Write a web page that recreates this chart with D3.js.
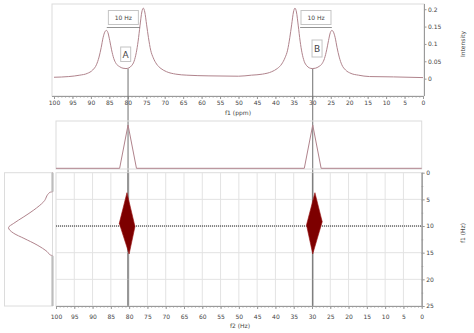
<!DOCTYPE html>
<html><head><meta charset="utf-8">
<script src="https://cdn.jsdelivr.net/npm/d3@7"></script>
<style>
body{margin:0;background:#fff}
svg{display:block}
text{font-family:"DejaVu Sans",sans-serif;fill:#444}
</style>
</head><body>
<svg id="c" width="474" height="333"></svg>
<script>
// 1D spectrum along f1 (ppm): two doublets, A and B
const specPpm = [100,96,93,91,89.5,88.5,87.8,87.2,86.7,86.2,85.8,85.4,84.9,84.4,83.8,83.2,82.3,81.3,80.5,79.7,79.0,78.3,77.7,77.2,76.7,76.2,75.8,75.4,74.9,74.4,73.8,73.1,72.2,71.0,69.5,67,64,58,50,
  46.5,43.5,41.0,39.5,38.3,37.4,36.7,36.1,35.6,35.1,34.7,34.3,33.8,33.3,32.8,32.2,31.5,30.8,30.0,29.2,28.2,27.3,26.7,26.1,25.6,25.1,24.7,24.3,23.8,23.3,22.7,22.0,21.0,19.5,17.5,14.5,8,0];
const specInt = [0.004,0.006,0.010,0.015,0.025,0.040,0.062,0.090,0.118,0.135,0.139,0.133,0.110,0.083,0.058,0.044,0.035,0.030,0.029,0.031,0.037,0.050,0.075,0.108,0.152,0.192,0.203,0.192,0.155,0.118,0.082,0.060,0.042,0.029,0.020,0.013,0.010,0.008,0.007,
  0.010,0.013,0.020,0.029,0.042,0.060,0.082,0.118,0.155,0.192,0.203,0.192,0.152,0.108,0.075,0.050,0.037,0.031,0.029,0.030,0.035,0.044,0.058,0.083,0.110,0.133,0.139,0.135,0.118,0.090,0.062,0.040,0.025,0.015,0.010,0.006,0.005,0.003];
const ppmTicks = [100,95,90,85,80,75,70,65,60,55,50,45,40,35,30,25,20,15,10,5,0];
const intTicks = [0,0.05,0.1,0.15,0.2];
const hzTicks = [0,5,10,15,20,25];

// Multiplet annotations
const pairLabels = ["A","B"];
const markPpm = [80.3,29.8];        // cursor position of each multiplet
const markInt = [0.029,0.029];      // spectrum intensity at the cursor
const couplingText = ["10 Hz","10 Hz"];
const couplingFrom = [85.7,33.3];
const couplingTo = [76.7,24.7];

// f2 projection above the 2D map
const projF2Ppm = [100,82.6,80.3,78.0,32.1,29.8,27.5,0];
const projF2Int = [0,0,1,0,0,1,0,0];

// f1 projection left of the 2D map
const projF1Hz  = [0,3.56,3.68,5.44,7.0,8.26,9.49,10.3,11.37,12.31,13.56,14.82,15.44,15.6,25];
const projF1Int = [0,0,0.06,0.2,0.425,0.65,0.88,1.0,0.88,0.65,0.35,0.12,0.045,0,0];

// 2D cross peaks: top, left, bottom, right vertices
const peakF2 = [[80.6,82.7,80.0,78.4],[29.2,31.5,29.8,27.2]];
const peakF1 = [[3.75,9.5,15.25,10.1],[3.75,9.8,15.25,9.2]];
const cursorHz = 10;

const svg = d3.select("#c");
const lineCol = "#b0838c", frameCol = "#dcdcdc", axisCol = "#9a9a9a";

// ---------- scales ----------
const xTop = d3.scaleLinear([100,0],[54,423]);
const yTop = d3.scaleLinear([-0.05,0.215],[96,4]);
const x2 = d3.scaleLinear([100,0],[56,421.7]);
const y2 = d3.scaleLinear([0,25],[172.7,306]);
const yMid = d3.scaleLinear([0,1],[168.3,125]);
const xLeft = d3.scaleLinear([0,1],[52.5,8.5]);

function styleAxis(g){
  g.selectAll("path.domain").attr("stroke",axisCol);
  g.selectAll(".tick line").attr("stroke",axisCol);
  g.selectAll(".tick text").attr("font-size",6).attr("fill","#444").attr("font-family","DejaVu Sans");
}

// ---------- top 1D panel ----------
svg.append("rect").attr("x",52).attr("y",4).attr("width",372).attr("height",92)
  .attr("fill","none").attr("stroke",frameCol);

const topMinor = svg.append("g").attr("transform","translate(0,96)")
  .call(d3.axisBottom(xTop).tickValues(d3.range(0,101,1)).tickSize(1.5).tickSizeOuter(0).tickFormat(""));
styleAxis(topMinor);
const topAxis = svg.append("g").attr("transform","translate(0,96)")
  .call(d3.axisBottom(xTop).tickValues(ppmTicks).tickSize(3).tickSizeOuter(0).tickPadding(2));
styleAxis(topAxis);
topAxis.select("path.domain").attr("d","M52,0.5H424");

const intAxis = svg.append("g").attr("transform","translate(424,0)")
  .call(d3.axisRight(yTop).tickValues(intTicks).tickSize(2.5).tickSizeOuter(0).tickPadding(1.5)
    .tickFormat(d => d3.format("")(+d.toFixed(2))));
styleAxis(intAxis);
intAxis.select("path.domain").attr("d","M0.5,4V96");

svg.append("text").attr("x",238).attr("y",114.5).attr("text-anchor","middle")
  .attr("font-size",6).text("f1 (ppm)");
svg.append("text").attr("transform","translate(465,44) rotate(-90)").attr("text-anchor","middle")
  .attr("font-size",6).text("Intensity");

// cursor lines through all panels
svg.selectAll("line.mark").data(markPpm).join("line").attr("class","mark")
  .attr("x1",d=>x2(d)).attr("x2",d=>x2(d))
  .attr("y1",(d,i)=>yTop(markInt[i])).attr("y2",y2(25))
  .attr("stroke","#707070").attr("stroke-width",1);

svg.append("path")
  .datum(specPpm.map((p,i)=>[p,specInt[i]]))
  .attr("d",d3.line().x(d=>xTop(d[0])).y(d=>yTop(d[1])).curve(d3.curveMonotoneX))
  .attr("fill","none").attr("stroke",lineCol).attr("stroke-width",1);

// coupling annotations
couplingText.forEach((t,i)=>{
  const a = xTop(couplingFrom[i]), b = xTop(couplingTo[i]);
  svg.append("line").attr("x1",a).attr("x2",b).attr("y1",27.5).attr("y2",27.5)
    .attr("stroke","#777").attr("stroke-width",0.8);
  const cx = (a+b)/2;
  svg.append("rect").attr("x",cx-15).attr("y",10.5).attr("width",30).attr("height",14)
    .attr("fill","#fff").attr("stroke","#c4c4c4");
  svg.append("text").attr("x",cx).attr("y",19.8).attr("text-anchor","middle")
    .attr("font-size",6).attr("fill","#333").text(t);
});
pairLabels.forEach((t,i)=>{
  const cx = xTop(markPpm[i]) - 1 + i*5;
  const top = i===0 ? 47 : 40;
  const h = i===0 ? 14.5 : 17;
  svg.append("rect").attr("x",cx-5).attr("y",top).attr("width",10).attr("height",h)
    .attr("fill","#fff").attr("stroke","#c4c4c4");
  svg.append("text").attr("x",cx).attr("y",top+h/2+3.3).attr("text-anchor","middle")
    .attr("font-size",9).attr("fill","#222").text(t);
});

// ---------- f2 projection ----------
svg.append("rect").attr("x",56).attr("y",121).attr("width",365.7).attr("height",48)
  .attr("fill","none").attr("stroke",frameCol);
svg.append("path")
  .datum(projF2Ppm.map((p,i)=>[p,projF2Int[i]]))
  .attr("d",d3.line().x(d=>x2(d[0])).y(d=>yMid(d[1])))
  .attr("fill","none").attr("stroke",lineCol).attr("stroke-width",1);

// ---------- f1 projection ----------
svg.append("rect").attr("x",4.5).attr("y",172.7).attr("width",48).attr("height",133.3)
  .attr("fill","none").attr("stroke",frameCol);
const f1pts = projF1Hz.map((h,i)=>[h,projF1Int[i]]);
svg.append("path").datum(f1pts)
  .attr("d",d3.line().x(d=>xLeft(d[1])).y(d=>y2(d[0])).curve(d3.curveMonotoneY))
  .attr("fill","none").attr("stroke",lineCol).attr("stroke-width",1);
// flat baseline stretches
const flat = [];
for(let i=0;i<f1pts.length-1;i++) if(f1pts[i][1]===0 && f1pts[i+1][1]===0) flat.push([f1pts[i],f1pts[i+1]]);
svg.selectAll("line.flat").data(flat).join("line").attr("class","flat")
  .attr("x1",d=>xLeft(0)).attr("x2",d=>xLeft(0))
  .attr("y1",d=>y2(d[0][0])).attr("y2",d=>y2(d[1][0]))
  .attr("stroke","#bdbdbd").attr("stroke-width",2.2);

// ---------- 2D map ----------
svg.append("rect").attr("x",56).attr("y",172.7).attr("width",365.7).attr("height",133.3)
  .attr("fill","none").attr("stroke",frameCol);
svg.selectAll("line.gx").data(ppmTicks.filter(d=>d>0&&d<100)).join("line").attr("class","gx")
  .attr("x1",d=>x2(d)).attr("x2",d=>x2(d)).attr("y1",y2(0)).attr("y2",y2(25))
  .attr("stroke","#e3e3e3");
svg.selectAll("line.gy").data(hzTicks.filter(d=>d>0&&d<25)).join("line").attr("class","gy")
  .attr("x1",56).attr("x2",421.7).attr("y1",d=>y2(d)).attr("y2",d=>y2(d))
  .attr("stroke","#e3e3e3");

svg.append("line").attr("x1",56).attr("x2",421.7).attr("y1",y2(cursorHz)).attr("y2",y2(cursorHz))
  .attr("stroke","#222").attr("stroke-width",1).attr("stroke-dasharray","1,1");

// redraw cursor lines over the grid
svg.selectAll("line.mark2").data(markPpm).join("line").attr("class","mark2")
  .attr("x1",d=>x2(d)).attr("x2",d=>x2(d)).attr("y1",y2(0)).attr("y2",y2(25))
  .attr("stroke","#707070").attr("stroke-width",1);

svg.selectAll("path.peak").data(peakF2).join("path").attr("class","peak")
  .attr("d",(d,i)=>d3.line()(d.map((p,j)=>[x2(p),y2(peakF1[i][j])]))+"Z")
  .attr("fill","#7d0000").attr("stroke","#9a1010").attr("stroke-width",0.6);

const f2Minor = svg.append("g").attr("transform","translate(0,306)")
  .call(d3.axisBottom(x2).tickValues(d3.range(0,101,1)).tickSize(1.5).tickSizeOuter(0).tickFormat(""));
styleAxis(f2Minor);
const f2Axis = svg.append("g").attr("transform","translate(0,306)")
  .call(d3.axisBottom(x2).tickValues(ppmTicks).tickSize(3).tickSizeOuter(0).tickPadding(5.5));
styleAxis(f2Axis);

const f1Minor = svg.append("g").attr("transform","translate(421.7,0)")
  .call(d3.axisRight(y2).tickValues(d3.range(0,25.1,2.5)).tickSize(1.5).tickSizeOuter(0).tickFormat(""));
styleAxis(f1Minor);
const f1Axis = svg.append("g").attr("transform","translate(421.7,0)")
  .call(d3.axisRight(y2).tickValues(hzTicks).tickSize(3).tickSizeOuter(0).tickPadding(1.5));
styleAxis(f1Axis);

svg.append("text").attr("x",240).attr("y",328).attr("text-anchor","middle")
  .attr("font-size",6).text("f2 (Hz)");
svg.append("text").attr("transform","translate(465,233) rotate(-90)").attr("text-anchor","middle")
  .attr("font-size",6).text("f1 (Hz)");
</script>
</body></html>
